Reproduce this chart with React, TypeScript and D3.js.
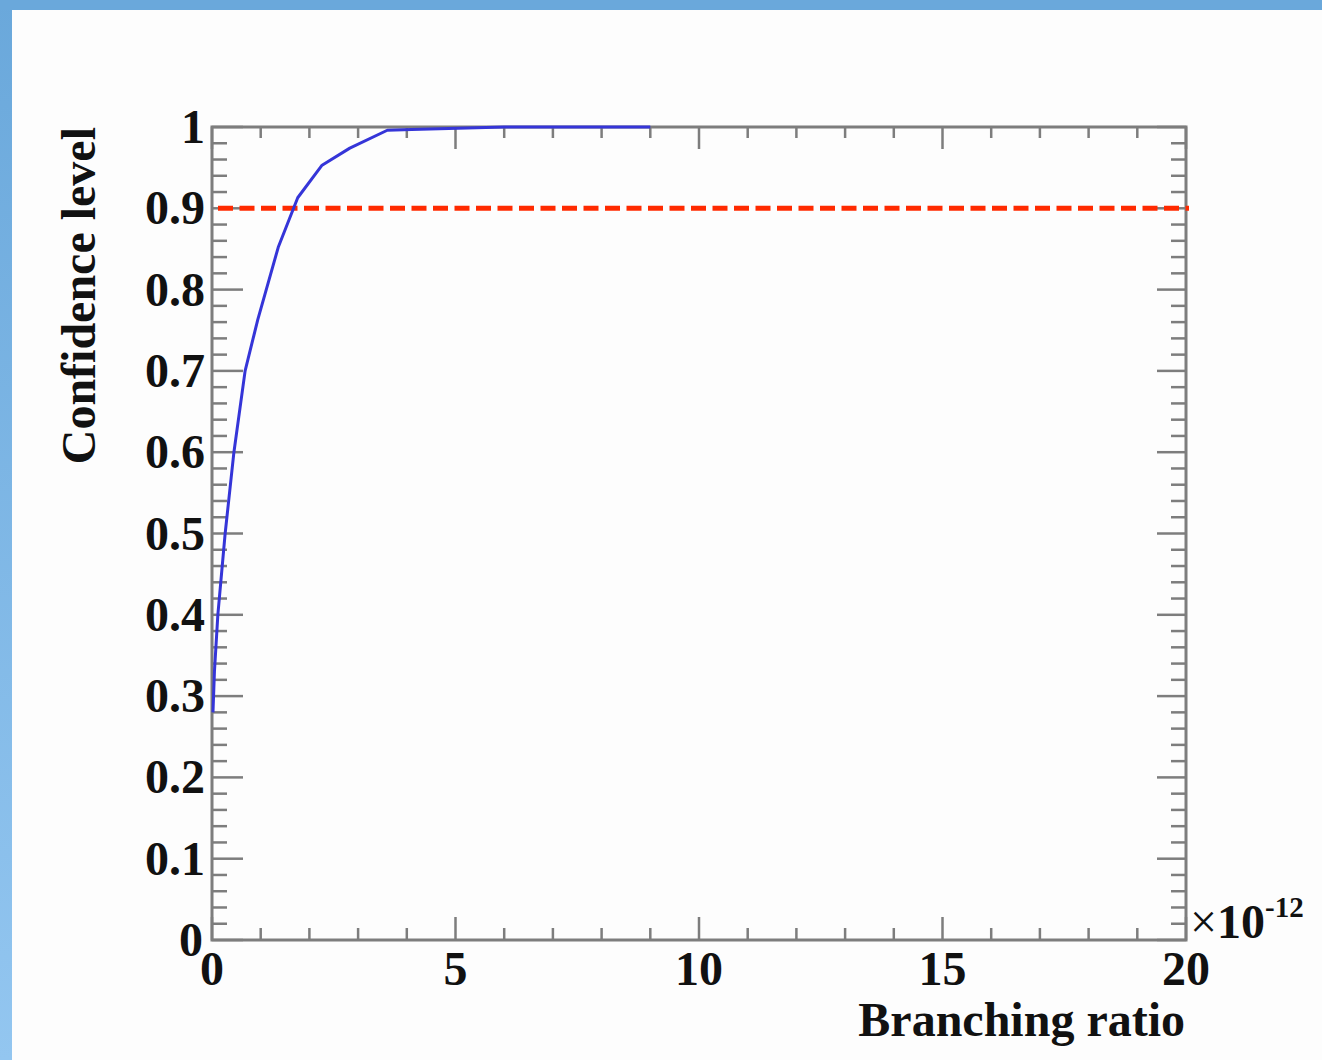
import React from "react";
import * as d3 from "d3";

const curveX = [0.02, 0.05, 0.12, 0.27, 0.45, 0.68, 0.94, 1.36, 1.76, 2.26, 2.83, 3.6, 4.1, 6.0, 9.0];
const curveY = [0.28, 0.33, 0.40, 0.50, 0.60, 0.70, 0.763, 0.852, 0.913, 0.953, 0.974, 0.996, 0.997, 1.0, 1.0];
const clLevel = 0.9;
const xTickValues = [0, 5, 10, 15, 20];
const yTickValues = [0, 0.1, 0.2, 0.3, 0.4, 0.5, 0.6, 0.7, 0.8, 0.9, 1];
const yTickLabels = ["0", "0.1", "0.2", "0.3", "0.4", "0.5", "0.6", "0.7", "0.8", "0.9", "1"];
const xTitle = "Branching ratio";
const yTitle = "Confidence level";

const W = 1322;
const H = 1060;
const L = 212, R = 1186, T = 127, B = 940;
const FONT = "'Liberation Serif', 'Times New Roman', serif";
const AX = "#7d7d7d";

export default function App() {
  const x = d3.scaleLinear().domain([0, 20]).range([L, R]);
  const y = d3.scaleLinear().domain([0, 1]).range([B, T]);
  const pts = curveX.map((v, i) => [v, curveY[i]] as [number, number]);
  const line = d3.line<[number, number]>().x((d) => x(d[0])).y((d) => y(d[1]));

  const xMinor = d3.range(0, 21, 1);
  const yMinor = d3.range(0, 51, 1).map((i) => i / 50);

  return (
    <svg width={W} height={H} style={{ position: "absolute", left: 0, top: 0 }}>
      <defs>
        <linearGradient id="lg" x1="0" y1="0" x2="0" y2="1">
          <stop offset="0" stopColor="#6aa8db" />
          <stop offset="1" stopColor="#93c6f0" />
        </linearGradient>
      </defs>
      <rect x={0} y={0} width={W} height={H} fill="#fdfdfd" />
      <rect x={0} y={0} width={12} height={H} fill="url(#lg)" />
      <rect x={0} y={0} width={W} height={10} fill="#6aa8db" />

      {/* minor & major ticks */}
      <g stroke={AX} strokeWidth={2.5}>
        {xMinor.map((v) => {
          const major = v % 5 === 0;
          return (
            <g key={"x" + v}>
              <line x1={x(v)} x2={x(v)} y1={B} y2={B - (major ? 23 : 12)} />
              <line x1={x(v)} x2={x(v)} y1={T} y2={T + (major ? 22 : 11)} />
            </g>
          );
        })}
        {yMinor.map((v, i) => {
          const major = i % 5 === 0;
          return (
            <g key={"y" + i}>
              <line x1={L} x2={L + (major ? 31 : 15)} y1={y(v)} y2={y(v)} />
              <line x1={R} x2={R - (major ? 29 : 15)} y1={y(v)} y2={y(v)} />
            </g>
          );
        })}
      </g>
      <rect x={L} y={T} width={R - L} height={B - T} fill="none" stroke={AX} strokeWidth={3} />

      {/* red dashed line */}
      <line x1={x(0) + 6} x2={R + 3} y1={y(clLevel)} y2={y(clLevel)} stroke="#ff2a00" strokeWidth={5} strokeDasharray="15 6.5" />

      {/* curve */}
      <path d={line(pts) || ""} fill="none" stroke="#3535d8" strokeWidth={3} strokeLinejoin="round" />

      {/* labels */}
      <g fontFamily={FONT} fontWeight="bold" fontSize={48} fill="#111">
        {yTickValues.map((v, i) => (
          <text key={"yl" + i} x={i === 0 ? 203 : 205} y={y(v) + 16} textAnchor="end">
            {yTickLabels[i]}
          </text>
        ))}
        {xTickValues.map((v) => (
          <text key={"xl" + v} x={x(v)} y={985} textAnchor="middle">
            {v}
          </text>
        ))}
        <text x={1190} y={938}>
          <tspan fontWeight="normal">×</tspan>10
          <tspan fontSize={29} dy={-21}>-12</tspan>
        </text>
        <text x={1185} y={1036} textAnchor="end">{xTitle}</text>
        <text transform={`translate(95, ${T}) rotate(-90)`} textAnchor="end">{yTitle}</text>
      </g>
    </svg>
  );
}
